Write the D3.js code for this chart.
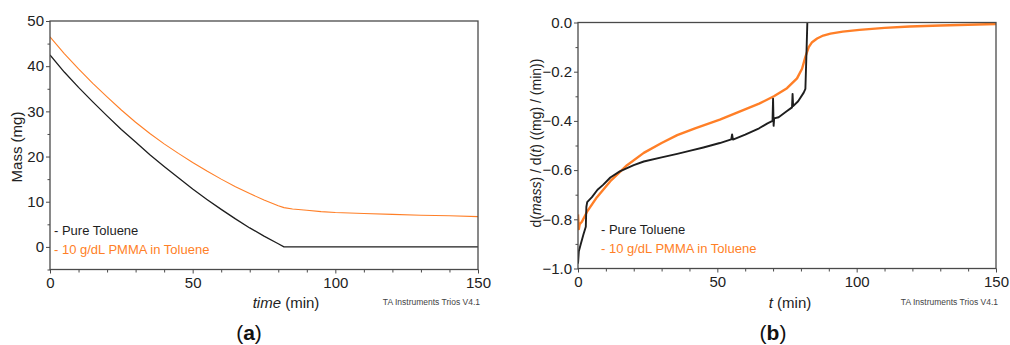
<!DOCTYPE html>
<html><head><meta charset="utf-8">
<script src="https://cdn.jsdelivr.net/npm/d3@7"></script>
<style>body{margin:0;background:#fff}svg{display:block}text{font-family:"Liberation Sans",Arial,sans-serif}</style>
</head><body><svg id="c" width="1010" height="345"></svg>
<script>
// ---------- Data ----------
const seriesNames = ["Pure Toluene", "10 g/dL PMMA in Toluene"];
// Panel (a): mass (mg) vs time (min)
const aTime = [0,5,10,15,20,25,30,35,40,45,50,55,60,65,70,75,80,82,85,90,95,100,110,120,130,140,150];
const aPure = [42.5,38.7,35.3,32.1,29.0,26.0,23.2,20.4,17.8,15.3,12.8,10.5,8.3,6.2,4.2,2.4,0.7,0,0,0,0,0,0,0,0,0,0];
const aPMMA = [46.5,42.8,39.4,36.2,33.2,30.3,27.6,25.1,22.8,20.7,18.7,16.8,15.0,13.3,11.8,10.4,9.1,8.7,8.4,8.1,7.8,7.6,7.4,7.2,7.0,6.9,6.7];
// Panel (b): d(mass)/d(t) vs t
const bPureTime = [0,0.3,1,2,2.8,3.0,3.3,5,7,9,11.6,15,20,23.6,30,35.6,40,45,50.9,55,55.3,55.6,60,65,68,69.8,70.0,70.2,70.4,72,75,76.8,77.0,77.2,79,81,81.6,82.0,82.3];
const bPure     = [-0.98,-0.93,-0.90,-0.86,-0.83,-0.75,-0.73,-0.71,-0.68,-0.66,-0.63,-0.605,-0.58,-0.565,-0.548,-0.534,-0.522,-0.508,-0.49,-0.475,-0.455,-0.476,-0.456,-0.43,-0.41,-0.40,-0.31,-0.42,-0.39,-0.385,-0.36,-0.345,-0.29,-0.34,-0.32,-0.285,-0.27,-0.12,0];
const bPMMATime = [0,0.3,0.6,1.4,3.2,6.8,11.6,17.6,23.6,30,35.6,42,50.9,59.5,65,70.3,75,78.6,80.4,81.6,82.8,84,85.8,88,90.6,95,101,110,119,130,140,150];
const bPMMA     = [-0.78,-0.84,-0.82,-0.81,-0.77,-0.71,-0.645,-0.58,-0.53,-0.49,-0.458,-0.43,-0.395,-0.355,-0.33,-0.30,-0.267,-0.227,-0.188,-0.14,-0.10,-0.08,-0.065,-0.053,-0.045,-0.037,-0.03,-0.022,-0.016,-0.012,-0.009,-0.006];
const aYTicks = [0,10,20,30,40,50];
const bYTicks = [-1.0,-0.8,-0.6,-0.4,-0.2,0.0];
const xTicks = [0,50,100,150];

const colors = ["#1e1e1e", "#ff7f27"];
const svg = d3.select("#c");

function panel(cfg) {
  const g = svg.append("g");
  const x = d3.scaleLinear().domain([0,150]).range([cfg.x0, cfg.x1]);
  const y = d3.scaleLinear().domain(cfg.yDomain).range([cfg.y1, cfg.y0]);
  const frame = "#4a4a4a";
  // clip
  const cid = "clip"+cfg.id;
  svg.append("clipPath").attr("id",cid).append("rect")
    .attr("x",cfg.x0).attr("y",cfg.y0-1).attr("width",cfg.x1-cfg.x0).attr("height",cfg.y1-cfg.y0+2);
  const line = d3.line().x(d=>x(d[0])).y(d=>y(d[1]));
  cfg.series.forEach((s,i)=>{
    g.append("path").datum(d3.zip(s.t,s.v)).attr("d",line).attr("fill","none")
      .attr("stroke",colors[s.c]).attr("stroke-width",s.w).attr("stroke-linejoin","round")
      .attr("clip-path",`url(#${cid})`);
  });
  // frame
  g.append("rect").attr("x", cfg.x0).attr("y", cfg.y0).attr("width", cfg.x1-cfg.x0).attr("height", cfg.y1-cfg.y0)
    .attr("fill","none").attr("stroke",frame).attr("stroke-width",1.3);
  // bottom axis
  const xa = g.append("g").attr("transform",`translate(0,${cfg.y1})`)
    .call(d3.axisBottom(x).tickValues(xTicks).tickSize(4).tickPadding(4).tickFormat(d3.format("d")));
  xa.select(".domain").remove();
  xa.selectAll("line").attr("stroke",frame);
  xa.selectAll("text").attr("font-size",15).attr("fill","#222");
  g.append("g").attr("transform",`translate(0,${cfg.y1})`)
    .call(d3.axisBottom(x).tickValues(d3.range(10,150,10).filter(v=>v%50)).tickSize(3).tickFormat(""))
    .call(s=>{s.select(".domain").remove(); s.selectAll("line").attr("stroke",frame);});
  // left axis
  const ya = g.append("g").attr("transform",`translate(${cfg.x0},0)`)
    .call(d3.axisLeft(y).tickValues(cfg.yTicks).tickSize(4).tickPadding(2).tickFormat(cfg.fmt));
  ya.select(".domain").remove();
  ya.selectAll("line").attr("stroke",frame);
  ya.selectAll("text").attr("font-size",15).attr("fill","#222");
  g.append("g").attr("transform",`translate(${cfg.x0},0)`)
    .call(d3.axisLeft(y).tickValues(cfg.yMinor).tickSize(2.5).tickFormat(""))
    .call(s=>{s.select(".domain").remove(); s.selectAll("line").attr("stroke",frame);});
  // legend
  seriesNames.forEach((n,i)=>{
    g.append("text").attr("x",cfg.legX).attr("y",cfg.legY+i*18.5).attr("font-size",13)
      .attr("fill",colors[i]).text("- "+n);
  });
  // x title
  const xt = g.append("text").attr("x",cfg.xTitleX).attr("y",308).attr("text-anchor","middle").attr("font-size",15).attr("fill","#222");
  xt.append("tspan").attr("font-style","italic").text(cfg.xItal);
  xt.append("tspan").text(" (min)");
  // y title
  const yt = g.append("text").attr("transform",`translate(${cfg.yTitleX},${cfg.yTitleY}) rotate(-90)`)
    .attr("text-anchor","middle").attr("font-size",cfg.yTitleSize).attr("fill","#222");
  cfg.yTitle.forEach(p=>yt.append("tspan").attr("font-style",p[1]?"italic":"normal").text(p[0]));
  // credit
  g.append("text").attr("x",cfg.x1+2).attr("y",305).attr("text-anchor","end").attr("font-size",8.5)
    .attr("fill","#444").text("TA Instruments Trios V4.1");
  // panel label
  const pl = g.append("text").attr("x",cfg.labX).attr("y",340).attr("text-anchor","middle")
    .attr("font-family","'Liberation Serif','DejaVu Serif',serif").attr("font-size",21).attr("fill","#111");
  pl.append("tspan").text("(");
  pl.append("tspan").attr("font-weight","bold").text(cfg.lab);
  pl.append("tspan").text(")");
}

panel({id:"a", x0:50, x1:478, y0:21, y1:269.5, yDomain:[-5,50], yTicks:aYTicks, yMinor:[-5,5,15,25,35,45],
  fmt:d3.format("d"),
  series:[{t:aTime,v:aPure,c:0,w:1.3},{t:aTime,v:aPMMA,c:1,w:1.1}],
  legX:54, legY:235, xTitleX:286, xItal:"time", yTitleX:22, yTitleY:147, yTitleSize:15,
  yTitle:[["Mass  (mg)",false]], lab:"a", labX:249});

panel({id:"b", x0:578, x1:996, y0:22.5, y1:268.5, yDomain:[-1,0], yTicks:bYTicks, yMinor:[-0.9,-0.7,-0.5,-0.3,-0.1],
  fmt:d3.format(".1f"),
  series:[{t:bPMMATime,v:bPMMA,c:1,w:2.4},{t:bPureTime,v:bPure,c:0,w:1.9}],
  legX:601, legY:234, xTitleX:790, xItal:"t", yTitleX:541, yTitleY:143, yTitleSize:14,
  yTitle:[["d(",false],["mass",true],[") / d(",false],["t",true],[")  ((mg) / (min))",false]], lab:"b", labX:773});
</script></body></html>
